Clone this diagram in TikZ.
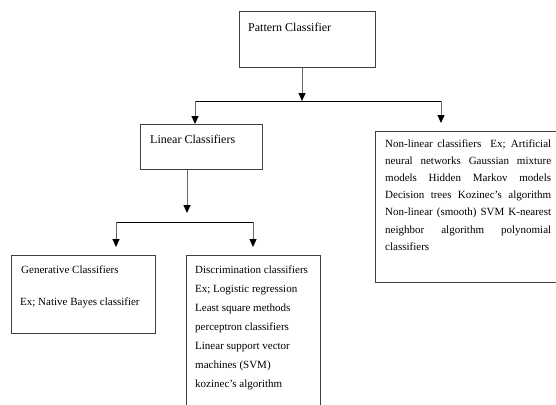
\documentclass[tikz,border=0pt]{standalone}
\usepackage{fontspec}
\setmainfont{Liberation Serif}
\usetikzlibrary{arrows.meta}
\begin{document}
\begin{tikzpicture}[x=1pt,y=-1pt,
  box/.style={draw=black!75, line width=1pt, inner sep=0pt, anchor=north west},
  lbl/.style={anchor=base west, inner sep=0pt, font=\fontsize{11}{13}\selectfont},
  big/.style={anchor=base west, inner sep=0pt, font=\fontsize{12}{14}\selectfont},
  arr/.style={draw=black!60, line width=1pt, -{Triangle[length=8pt,width=7pt,color=black,fill=black]}},
  hline/.style={draw=black, line width=1pt}]
\useasboundingbox (0,0) rectangle (556,404);
% boxes
\node[box, minimum width=136pt, minimum height=56pt] (pc) at (239,11) {};
\node[box, minimum width=122pt, minimum height=45pt] (lin) at (140,124) {};
\node[box, minimum width=190pt, minimum height=151pt] (nl) at (375,131) {};
\node[box, minimum width=144pt, minimum height=78pt] (gen) at (11,255) {};
\node[box, minimum width=134pt, minimum height=170pt] (disc) at (186,255) {};
% junctions
\coordinate (j1) at (302,101);
\coordinate (b1) at (195,101);
\coordinate (b2) at (441,101);
\coordinate (t2) at (441,123);
\coordinate (j2) at (187,213);
\coordinate (b3) at (116,222);
\coordinate (b4) at (253,222);
\coordinate (g3) at (116,247);
\coordinate (g4) at (253,247);
% connectors
\draw[arr] (j1 |- pc.south) -- (j1);
\draw[hline] (b1) -- (b2);
\draw[arr] (b1) -- (b1 |- lin.north);
\draw[arr] (b2) -- (t2);
\draw[arr] (j2 |- lin.south) -- (j2);
\draw[hline] (b3) -- (b4);
\draw[arr] (b3) -- (g3);
\draw[arr] (b4) -- (g4);
% texts
\node[big] (tpc) at (248,32) {Pattern Classifier};
\node[big] (tlin) at (150,143) {Linear Classifiers};
\node[lbl] (tg1) at (21,273) {Generative Classifiers};
\node[lbl] (tg2) at (20,305) {Ex; Native Bayes classifier};
\node[lbl] (d1) at (195,273) {Discrimination classifiers};
\node[lbl] (d2) at (195,292) {Ex; Logistic regression};
\node[lbl] (d3) at (195,311) {Least square methods};
\node[lbl] (d4) at (195,330) {perceptron classifiers};
\node[lbl] (d5) at (195,349) {Linear support vector};
\node[lbl] (d6) at (195,368) {machines (SVM)};
\node[lbl] (d7) at (195,387) {kozinec's algorithm};
\node[lbl] (n1) at (385,147) {\makebox[166pt][s]{Non-linear classifiers\ \ Ex; Artificial}};
\node[lbl] (n2) at (385,164.2) {\makebox[166pt][s]{neural networks Gaussian mixture}};
\node[lbl] (n3) at (385,181.4) {\makebox[166pt][s]{models Hidden Markov models}};
\node[lbl] (n4) at (385,198.6) {\makebox[166pt][s]{Decision trees Kozinec's algorithm}};
\node[lbl] (n5) at (385,215.8) {\makebox[166pt][s]{Non-linear (smooth) SVM K-nearest}};
\node[lbl] (n6) at (385,233) {\makebox[166pt][s]{neighbor algorithm polynomial}};
\node[lbl] (n7) at (385,250.2) {classifiers};
\end{tikzpicture}
\end{document}
